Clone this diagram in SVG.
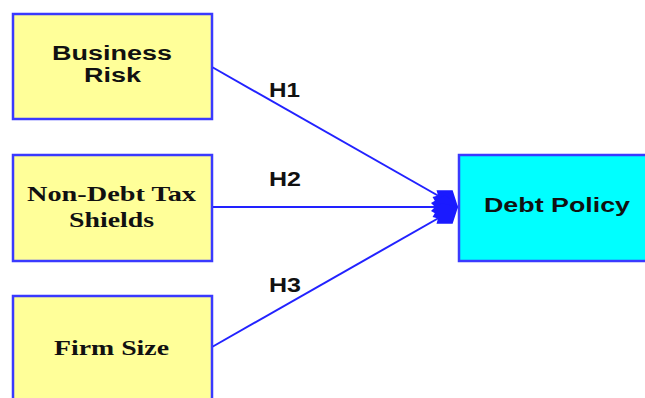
<svg xmlns="http://www.w3.org/2000/svg" width="645" height="398" viewBox="0 0 645 398">
  <style>
    .factor { fill: #ffff99; stroke: #3a3aff; stroke-width: 2.5; }
    .outcome { fill: #00ffff; stroke: #3a3aff; stroke-width: 2.5; }
    .sans { font-family: "Liberation Sans", Arial, sans-serif; font-weight: bold; font-size: 20px; fill: #111; }
    .serif { font-family: "Liberation Serif", "Times New Roman", serif; font-weight: bold; font-size: 21px; fill: #111; }
    .link { stroke: #2222ff; stroke-width: 2; fill: none; marker-end: url(#head); }
  </style>
  <defs>
    <marker id="head" viewBox="-30 -15 32 30" refX="0" refY="0" markerWidth="32" markerHeight="30" markerUnits="userSpaceOnUse" orient="auto">
      <path d="M0,0 L-13,-12 L-27,-4 L-23,0 L-27,4 L-13,12 Z" fill="#1a1aff"/>
    </marker>
  </defs>
  <rect width="645" height="398" fill="#ffffff"/>

  <g id="connectors">
    <line class="link" x1="212" y1="67" x2="458" y2="207"/>
    <line class="link" x1="212" y1="207" x2="458" y2="207"/>
    <line class="link" x1="212" y1="347" x2="458" y2="207"/>
    <text class="sans" x="269" y="97" textLength="31" lengthAdjust="spacingAndGlyphs">H1</text>
    <text class="sans" x="269" y="186" textLength="32" lengthAdjust="spacingAndGlyphs">H2</text>
    <text class="sans" x="269" y="292" textLength="32" lengthAdjust="spacingAndGlyphs">H3</text>
  </g>

  <g id="business-risk">
    <rect class="factor" x="13" y="14" width="199" height="105"/>
    <text class="sans" x="52" y="60" textLength="120" lengthAdjust="spacingAndGlyphs">Business</text>
    <text class="sans" x="84" y="82" textLength="57" lengthAdjust="spacingAndGlyphs">Risk</text>
  </g>

  <g id="non-debt-tax-shields">
    <rect class="factor" x="13" y="155" width="199" height="106"/>
    <text class="serif" x="27" y="201" textLength="169" lengthAdjust="spacingAndGlyphs">Non-Debt Tax</text>
    <text class="serif" x="69" y="227" textLength="85" lengthAdjust="spacingAndGlyphs">Shields</text>
  </g>

  <g id="firm-size">
    <rect class="factor" x="13" y="296" width="199" height="120"/>
    <text class="serif" x="54" y="355" textLength="115" lengthAdjust="spacingAndGlyphs">Firm Size</text>
  </g>

  <g id="debt-policy">
    <rect class="outcome" x="459" y="155" width="200" height="106"/>
    <text class="sans" x="484" y="212" textLength="146" lengthAdjust="spacingAndGlyphs">Debt Policy</text>
  </g>
</svg>
